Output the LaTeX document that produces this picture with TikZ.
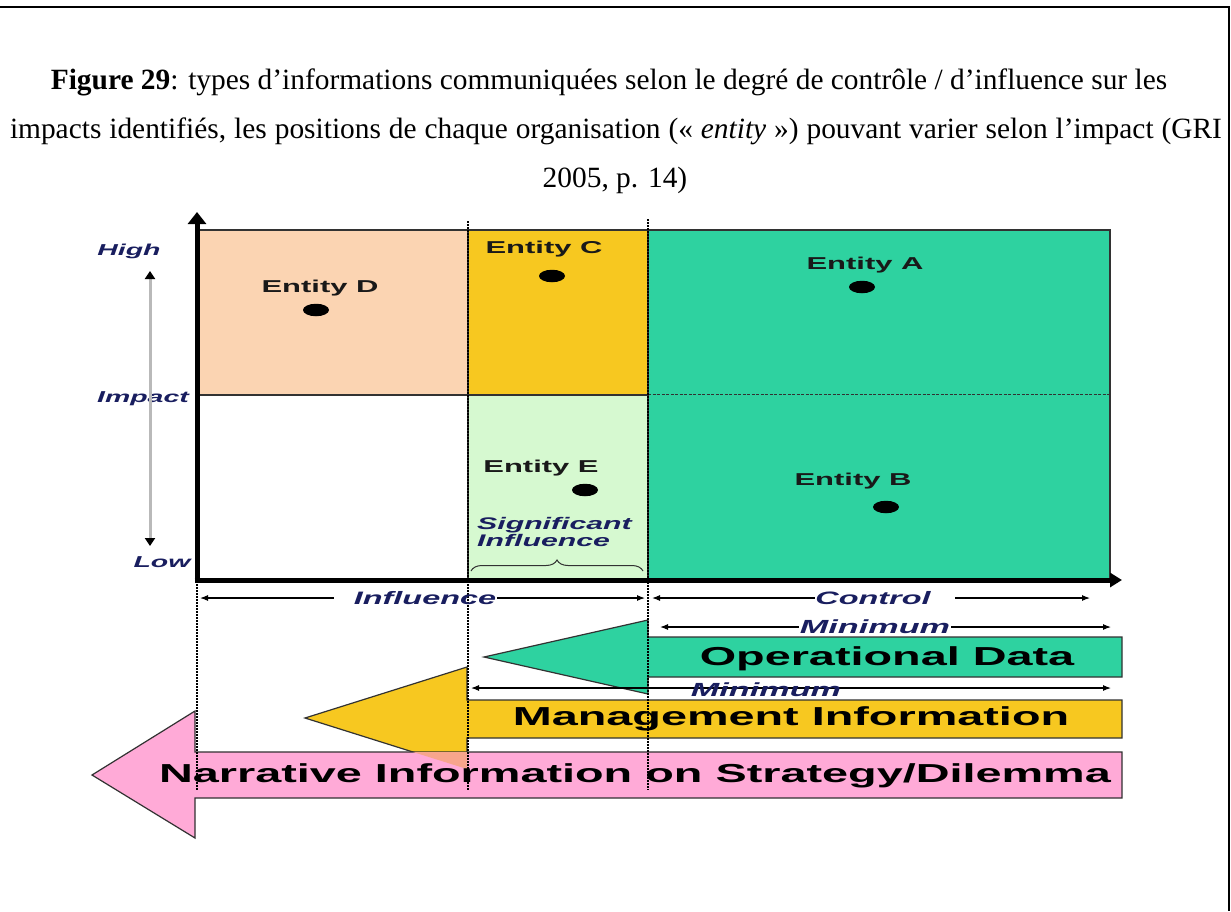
\documentclass[tikz,border=0pt]{standalone}
\usepackage{fontspec}
\setmainfont{Liberation Serif}
\newfontfamily\cf[FakeStretch=1.8]{Liberation Sans}
\usetikzlibrary{arrows.meta,decorations.pathreplacing,shapes.geometric}
\definecolor{peach}{RGB}{251,212,178}
\definecolor{goldq}{RGB}{247,200,32}
\definecolor{lgreen}{RGB}{214,249,208}
\definecolor{teal2}{RGB}{46,210,160}
\definecolor{pinkA}{RGB}{255,170,215}
\definecolor{salmon2}{RGB}{247,165,140}
\definecolor{navy}{RGB}{25,30,95}
\definecolor{edge}{RGB}{50,50,50}
\begin{document}
\begin{tikzpicture}[x=1pt,y=-1pt,
  captxt/.style={font=\fontsize{29.4}{34}\selectfont, inner sep=0pt},
  ent/.style={font=\cf\bfseries\fontsize{17.2}{19}\selectfont, text=black!90, inner sep=0pt},
  axl/.style={font=\cf\bfseries\itshape\fontsize{15.8}{18}\selectfont, text=navy, inner sep=0pt},
  diml/.style={font=\cf\bfseries\itshape\fontsize{18}{20}\selectfont, text=navy, inner sep=0.5pt},
  minl/.style={font=\cf\bfseries\itshape\fontsize{19}{21}\selectfont, text=navy, inner sep=0.5pt},
  bigtxt/.style={font=\cf\bfseries\fontsize{26}{29}\selectfont, text=black, inner sep=0pt},
  dotm/.style={ellipse, fill=black, minimum width=26pt, minimum height=12.5pt, inner sep=0pt},
  dimline/.style={draw=black, line width=1.1pt},
  tipR/.style={-{Latex[length=8pt,width=6pt]}},
  tipL/.style={{Latex[length=8pt,width=6pt]}-},
  tipB/.style={{Latex[length=8pt,width=6pt]}-{Latex[length=8pt,width=6pt]}},
  quadbox/.style={draw=edge, line width=1.3pt},
  blkarrow/.style={draw=edge, line width=1.2pt},
  vdot/.style={draw=black, line width=1.4pt, dash pattern=on 1.6pt off 1.4pt}
]
\useasboundingbox (0,0) rectangle (1231,911);
\fill[white] (0,0) rectangle (1231,911);
% frame
\draw[line width=2.2pt] (0,7) -- (1229,7) -- (1229,911);

% caption
\node[captxt, anchor=base] (cap1) at (609,89) {\textbf{Figure 29}: types d’informations communiquées selon le degré de contrôle / d’influence sur les};
\node[captxt, anchor=base] (cap2) at (616,138) {\makebox[1212pt][s]{impacts identifiés, les positions de chaque organisation (« \textit{entity} ») pouvant varier selon l’impact (GRI}};
\node[captxt, anchor=base] (cap3) at (615,187) {2005, p. 14)};

% quadrants
\path[quadbox, fill=peach] (199,230) rectangle (468,395);
\path[quadbox, fill=white] (199,395) rectangle (468,580);
\path[quadbox, fill=goldq] (468,230) rectangle (648,395);
\path[quadbox, fill=lgreen] (468,395) rectangle (648,580);
\path[quadbox, fill=teal2] (648,230) rectangle (1110,580);
\draw[edge, line width=1pt, dash pattern=on 3pt off 1.5pt] (648,394) -- (1110,394);

% axes
\coordinate (o) at (197,580);
\coordinate (ytop) at (197,212);
\coordinate (xend) at (1122,580);
\draw[line width=5pt, -{Triangle[length=12pt,width=18pt]}] (197,582.5) -- (ytop);
\draw[line width=5pt, -{Triangle[length=12pt,width=14pt]}] (194.5,580) -- (xend);

% entities
\node[ent] (eD) at (320,288) {Entity D};
\node[dotm] (dD) at (316,310) {};
\node[ent] (eC) at (544,249) {Entity C};
\node[dotm] (dC) at (552,276) {};
\node[ent] (eA) at (865,265) {Entity A};
\node[dotm] (dA) at (862,287) {};
\node[ent] (eE) at (541,468) {Entity E};
\node[dotm] (dE) at (585,490) {};
\node[ent] (eB) at (853,481) {Entity B};
\node[dotm] (dB) at (886,507) {};

% significant influence
\node[axl, font=\cf\bfseries\itshape\fontsize{16.8}{18}\selectfont, anchor=west, align=left] (sig) at (477,532) {Significant\\[-1pt]Influence};
\coordinate (brL) at (471,571);
\coordinate (brR) at (643,571);
\draw[edge, line width=1pt, decorate, decoration={brace, amplitude=11pt}] (brL) -- (brR);

% impact axis labels
\node[axl] (hi) at (129,251) {High};
\node[axl] (imp) at (143,399) {Impact};
\node[axl] (lo) at (162,562) {Low};
\coordinate (ga1) at (150,271);
\coordinate (ga2) at (150,546);
\draw[gray!55, line width=3pt, {Triangle[length=8pt,width=10pt,color=black]}-{Triangle[length=8pt,width=10pt,color=black]}] (ga1) -- (ga2);

% block arrows
\path[blkarrow, fill=teal2] (1122,637) -- (648,637) -- (648,620) -- (484,657) -- (648,694) -- (648,677) -- (1122,677) -- cycle;
\path[blkarrow, fill=goldq] (1122,700) -- (467,700) -- (467,667) -- (305,718) -- (467,769) -- (467,738) -- (1122,738) -- cycle;
\path[blkarrow, fill=pinkA] (1122,752) -- (195,752) -- (195,711) -- (92,775) -- (195,838) -- (195,798) -- (1122,798) -- cycle;
\begin{scope}
  \clip (196,752.7) rectangle (1121,797.3);
  \fill[salmon2] (467,667) -- (305,718) -- (467,769) -- cycle;
\end{scope}

% dotted verticals
\draw[vdot] (197,584) -- (197,790);
\draw[vdot] (468,221) -- (468,790);
\draw[vdot] (648,219) -- (648,790);

% dimension lines
\coordinate (inL) at (200,598);
\coordinate (inG) at (334,598);
\coordinate (inR) at (645,598);
\node[diml] (infl) at (425,598) {Influence};
\draw[dimline, tipL] (inL) -- (inG);
\draw[dimline, tipR] (infl.east) -- (inR);

\coordinate (ctL) at (652,598);
\coordinate (ctG) at (955,598);
\coordinate (ctR) at (1090,598);
\node[diml] (ctl) at (873,598) {Control};
\draw[dimline, tipL] (ctL) -- (ctl.west);
\draw[dimline, tipR] (ctG) -- (ctR);

\coordinate (m1L) at (660,627);
\coordinate (m1R) at (1111,627);
\draw[dimline, tipB] (m1L) -- (m1R);
\node[minl, fill=white] (min1) at (875,627) {Minimum};

\coordinate (m2L) at (471,688);
\coordinate (m2R) at (1111,688);
\draw[dimline, tipB] (m2L) -- (m2R);
\node[minl] (min2) at (766,690) {Minimum};

% arrow texts
\node[bigtxt] (opd) at (887,659) {Operational Data};
\node[bigtxt] (mgi) at (791,719) {Management Information};
\node[bigtxt] (nar) at (635,776) {Narrative Information on Strategy/Dilemma};
\end{tikzpicture}
\end{document}
